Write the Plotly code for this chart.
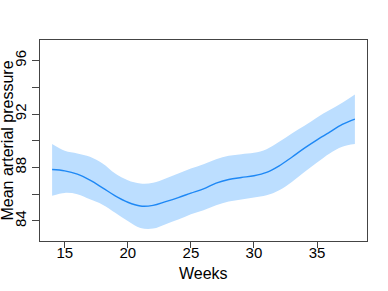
import plotly.graph_objects as go

weeks = [14, 15, 16, 17, 18, 19, 20, 21, 22, 23, 24, 25, 26, 27, 28, 29, 30, 31, 32, 33, 34, 35, 36, 37, 38]
mean_map = [87.85, 87.75, 87.5, 87.05, 86.48, 85.88, 85.4, 85.12, 85.17, 85.45, 85.75, 86.08, 86.4, 86.83, 87.1, 87.25, 87.38, 87.63, 88.12, 88.77, 89.45, 90.07, 90.65, 91.22, 91.62]
upper = [89.75, 89.25, 89.05, 88.8, 88.3, 87.55, 87.05, 86.8, 86.85, 87.18, 87.55, 87.93, 88.25, 88.62, 88.87, 89.0, 89.1, 89.37, 89.92, 90.55, 91.12, 91.75, 92.3, 92.85, 93.47]
lower = [85.88, 86.1, 86.0, 85.62, 85.22, 84.62, 84.0, 83.48, 83.43, 83.76, 84.1, 84.5, 84.8, 85.17, 85.45, 85.6, 85.75, 85.92, 86.3, 86.92, 87.67, 88.37, 89.05, 89.55, 89.75]

x_ticks = [15, 20, 25, 30, 35]
y_ticks = [84, 86, 88, 90, 92, 94, 96]
y_labels = ["84", "", "88", "", "92", "", "96"]

font = "Liberation Sans, Arial, sans-serif"

fig = go.Figure()
fig.add_trace(go.Scatter(x=weeks, y=lower, mode="lines", line=dict(width=0, shape="spline"),
                         showlegend=False, hoverinfo="skip"))
fig.add_trace(go.Scatter(x=weeks, y=upper, mode="lines", line=dict(width=0, shape="spline"),
                         fill="tonexty", fillcolor="#BCDEFF", showlegend=False, hoverinfo="skip"))
fig.add_trace(go.Scatter(x=weeks, y=mean_map, mode="lines",
                         line=dict(color="#1E88F5", width=1.4, shape="spline"), showlegend=False,
                         hoverinfo="skip"))

fig.update_layout(
    width=388, height=291,
    margin=dict(l=40, r=21, t=40, b=50),
    paper_bgcolor="white", plot_bgcolor="white",
    font=dict(family=font, size=15, color="black"),
)
fig.update_xaxes(range=[13.04, 38.96], tickvals=x_ticks, ticks="outside", ticklen=6,
                 tickcolor="#444", showline=True, linecolor="#444", linewidth=1, mirror=True,
                 showgrid=False, zeroline=False, tickfont=dict(size=15), ticklabelstandoff=-8)
fig.update_yaxes(range=[82.5, 97.54], tickvals=y_ticks, ticktext=y_labels, ticks="outside", ticklen=7,
                 tickcolor="#444", showline=True, linecolor="#444", linewidth=1, mirror=True,
                 showgrid=False, zeroline=False, tickangle=-90, tickfont=dict(size=15))
fig.add_annotation(text="Weeks", xref="paper", yref="paper", x=0.5, y=0,
                   xanchor="center", yanchor="middle", yshift=-(273 - 241),
                   showarrow=False, font=dict(size=16, family=font))
fig.add_annotation(text="Mean arterial pressure", xref="paper", yref="paper", x=0, y=0.5,
                   xanchor="center", yanchor="middle", xshift=-33, textangle=-90,
                   showarrow=False, font=dict(size=16, family=font))

fig.write_html("out.html", config={"displayModeBar": False},
               post_script="document.body.style.margin='0';")
